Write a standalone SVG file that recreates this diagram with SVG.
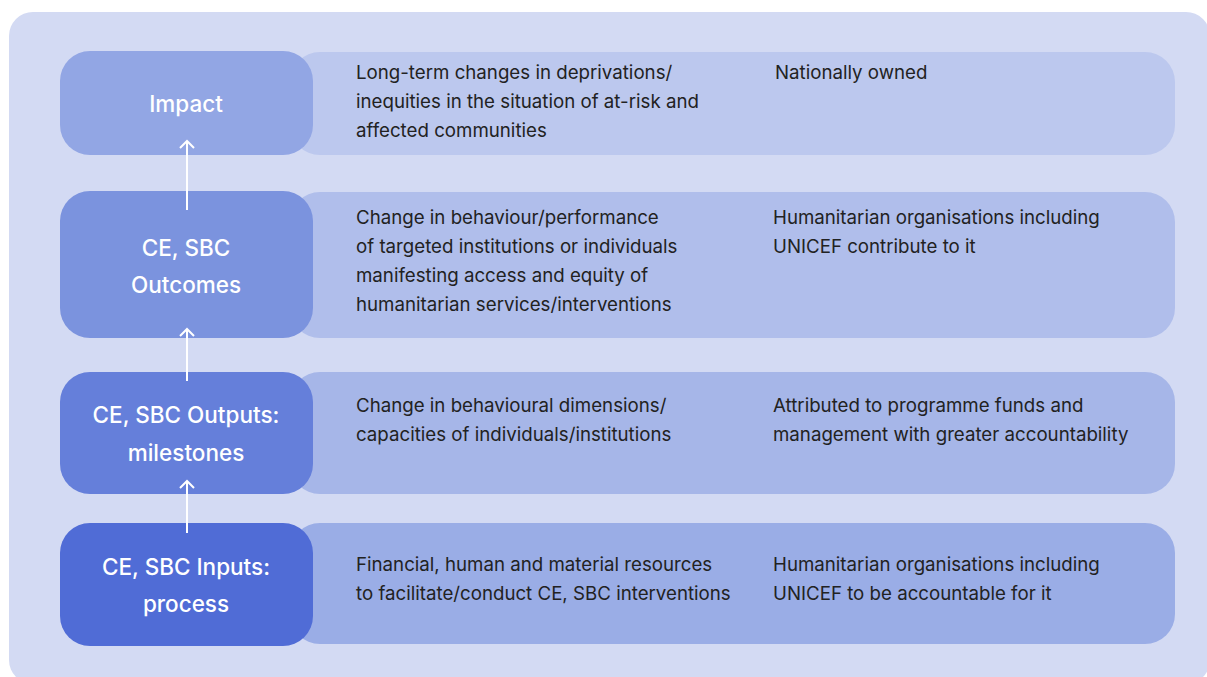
<svg xmlns="http://www.w3.org/2000/svg" width="1207" height="677" viewBox="0 0 1207 677">
<defs>
<style>
.lbl{font-family:Inter,"Noto Sans",sans-serif;font-size:22.5px;font-weight:500;fill:#ffffff;text-anchor:middle}
.txt{font-family:Inter,"Noto Sans",sans-serif;font-size:18.7px;fill:#222222}
.arr{stroke:#ffffff;stroke-width:2;fill:none}
</style>
</defs>
<rect x="0" y="0" width="1207" height="677" fill="#ffffff"/>
<rect x="9" y="12" width="1201" height="672" rx="24" fill="#D3DAF3"/>
<g id="row-impact">
<rect x="290" y="52" width="885" height="103" rx="30" fill="#BCC8EE"/>
<rect x="60" y="51" width="253" height="104" rx="30" fill="#92A6E4"/>
<text class="lbl" x="186" y="112">Impact</text>
<text class="txt" x="356" y="79">Long-term changes in deprivations/</text>
<text class="txt" x="356" y="108">inequities in the situation of at-risk and</text>
<text class="txt" x="356" y="137">affected communities</text>
<text class="txt" x="775" y="79">Nationally owned</text>
</g>
<g id="row-outcomes">
<rect x="290" y="192" width="885" height="146" rx="30" fill="#B0BEEB"/>
<rect x="60" y="191" width="253" height="147" rx="30" fill="#7B93DE"/>
<text class="lbl" x="186" y="256">CE, SBC</text>
<text class="lbl" x="186" y="293">Outcomes</text>
<text class="txt" x="356" y="224">Change in behaviour/performance</text>
<text class="txt" x="356" y="253">of targeted institutions or individuals</text>
<text class="txt" x="356" y="282">manifesting access and equity of</text>
<text class="txt" x="356" y="311">humanitarian services/interventions</text>
<text class="txt" x="773" y="224">Humanitarian organisations including</text>
<text class="txt" x="773" y="253">UNICEF contribute to it</text>
</g>
<g id="row-outputs">
<rect x="290" y="372" width="885" height="122" rx="30" fill="#A6B6E8"/>
<rect x="60" y="372" width="253" height="122" rx="30" fill="#657FDA"/>
<text class="lbl" x="186" y="423">CE, SBC Outputs:</text>
<text class="lbl" x="186" y="461">milestones</text>
<text class="txt" x="356" y="412">Change in behavioural dimensions/</text>
<text class="txt" x="356" y="441">capacities of individuals/institutions</text>
<text class="txt" x="773" y="412">Attributed to programme funds and</text>
<text class="txt" x="773" y="441">management with greater accountability</text>
</g>
<g id="row-inputs">
<rect x="290" y="523" width="885" height="121" rx="30" fill="#9AADE6"/>
<rect x="60" y="523" width="253" height="123" rx="30" fill="#506CD6"/>
<text class="lbl" x="186" y="575">CE, SBC Inputs:</text>
<text class="lbl" x="186" y="612">process</text>
<text class="txt" x="356" y="571">Financial, human and material resources</text>
<text class="txt" x="356" y="600">to facilitate/conduct CE, SBC interventions</text>
<text class="txt" x="773" y="571">Humanitarian organisations including</text>
<text class="txt" x="773" y="600">UNICEF to be accountable for it</text>
</g>
<g id="connectors">
<line class="arr" x1="187" y1="210" x2="187" y2="141"/>
<path class="arr" d="M180,148 L187,141 L194,148"/>
<line class="arr" x1="187" y1="381" x2="187" y2="329"/>
<path class="arr" d="M180,336 L187,329 L194,336"/>
<line class="arr" x1="187" y1="533" x2="187" y2="481"/>
<path class="arr" d="M180,488 L187,481 L194,488"/>
</g>
</svg>
